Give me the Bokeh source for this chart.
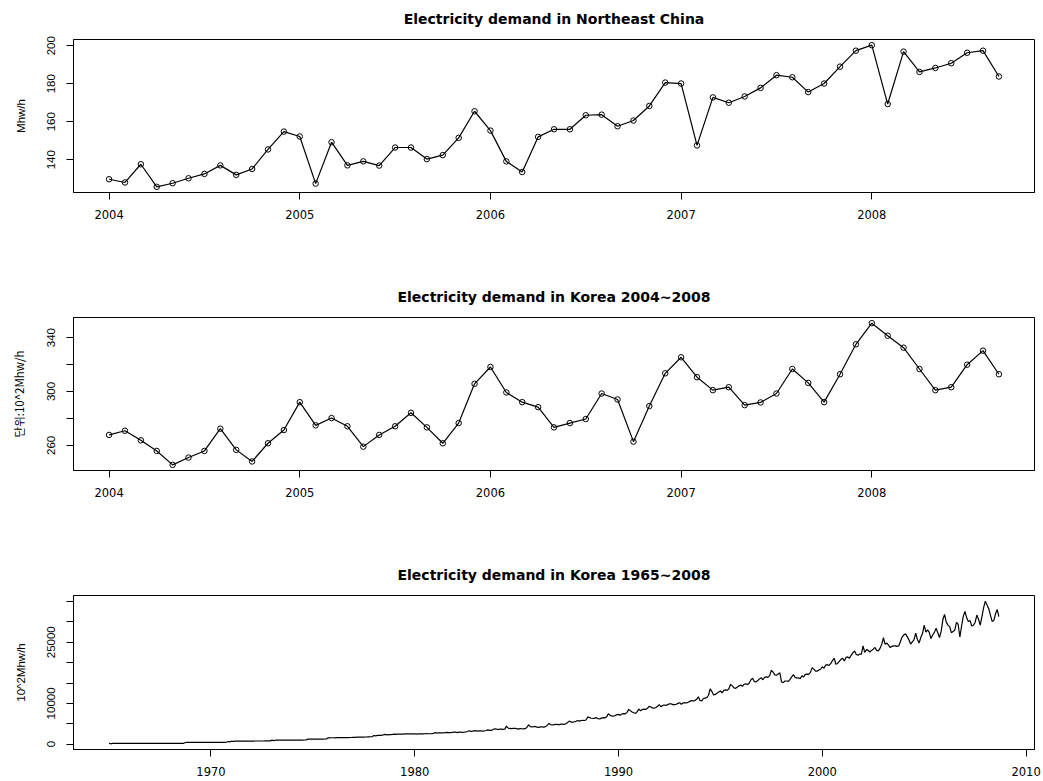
from bokeh.plotting import figure
from bokeh.layouts import column
from bokeh.models import Range1d, FixedTicker
from bokeh.embed import file_html
from bokeh.resources import INLINE

# ---------------- data ----------------
# Northeast China, monthly (Mhw/h), Jan 2004 .. Sep 2008
ne_china_2004 = [129.7, 128.0, 137.6, 125.7, 127.6, 130.2, 132.5, 137.0, 132.0, 135.1, 145.4, 154.8]
ne_china_2005 = [152.2, 127.4, 149.2, 137.0, 139.1, 136.9, 146.4, 146.4, 140.3, 142.4, 151.5, 165.5]
ne_china_2006 = [155.3, 139.1, 133.5, 152.0, 156.0, 156.0, 163.4, 163.7, 157.6, 160.6, 168.3, 180.6]
ne_china_2007 = [180.1, 147.5, 172.8, 170.0, 173.3, 177.8, 184.5, 183.4, 175.6, 180.1, 189.0, 197.4]
ne_china_2008 = [200.3, 169.3, 196.9, 186.2, 188.3, 190.8, 196.3, 197.4, 183.8]

# Korea, monthly (10^2 Mhw/h), Jan 2004 .. Sep 2008
korea_2004 = [267.8, 270.9, 263.8, 255.9, 245.6, 251.0, 255.9, 272.4, 256.7, 248.1, 261.6, 271.4]
korea_2005 = [292.1, 274.9, 280.3, 274.2, 259.1, 267.8, 274.2, 284.2, 273.4, 261.6, 276.6, 305.7]
korea_2006 = [318.2, 299.3, 292.1, 288.4, 273.4, 276.6, 279.6, 298.5, 294.1, 262.8, 289.2, 313.5]
korea_2007 = [325.4, 310.6, 301.0, 303.2, 289.9, 291.9, 298.5, 316.7, 306.4, 292.1, 312.8, 335.0]
korea_2008 = [350.7, 341.4, 332.5, 316.7, 301.0, 303.2, 319.9, 330.3, 312.8]

# Korea long series, monthly (10^2 Mhw/h), Jan 1965 .. Dec 2003
kr_1965 = [240, 90, 180, 185, 185, 185, 185, 185, 185, 185, 190, 190]
kr_1966 = [190, 185, 190, 190, 190, 195, 195, 195, 195, 195, 200, 200]
kr_1967 = [200, 195, 200, 200, 205, 205, 205, 205, 205, 210, 210, 210]
kr_1968 = [210, 205, 210, 215, 215, 215, 215, 215, 215, 410, 420, 425]
kr_1969 = [425, 420, 425, 430, 430, 430, 435, 435, 435, 440, 440, 445]
kr_1970 = [445, 440, 450, 450, 455, 455, 455, 460, 460, 470, 660, 560]
kr_1971 = [720, 700, 730, 740, 740, 745, 745, 750, 750, 755, 760, 765]
kr_1972 = [765, 760, 770, 770, 775, 775, 780, 780, 785, 790, 795, 800]
kr_1973 = [1000, 850, 970, 975, 980, 980, 985, 990, 990, 995, 1000, 1000]
kr_1974 = [1000, 990, 1000, 1005, 1010, 1010, 1015, 1020, 1020, 1230, 1235, 1240]
kr_1975 = [1240, 1230, 1245, 1250, 1250, 1255, 1260, 1265, 1270, 1560, 1565, 1570]
kr_1976 = [1575, 1560, 1580, 1585, 1590, 1595, 1600, 1610, 1615, 1620, 1640, 1660]
kr_1977 = [1700, 1680, 1720, 1720, 1730, 1740, 1750, 1760, 1770, 1790, 1820, 1850]
kr_1978 = [2130, 2050, 2150, 2160, 2180, 2200, 2380, 2350, 2300, 2330, 2360, 2400]
kr_1979 = [2450, 2380, 2460, 2460, 2470, 2480, 2500, 2520, 2500, 2510, 2530, 2540]
kr_1980 = [2540, 2480, 2540, 2540, 2530, 2540, 2560, 2600, 2560, 2560, 2600, 2650]
kr_1981 = [2870, 2700, 2800, 2780, 2760, 2780, 2820, 2880, 2830, 2820, 2880, 2950]
kr_1982 = [2950, 2850, 2950, 2930, 2900, 2920, 3000, 3100, 3280, 3150, 3200, 3280]
kr_1983 = [3300, 3180, 3280, 3250, 3220, 3250, 3350, 3500, 3380, 3380, 3550, 3770]
kr_1984 = [3700, 3600, 3700, 3680, 3650, 3700, 4430, 3950, 3850, 3800, 3850, 3900]
kr_1985 = [3800, 3690, 3800, 3780, 3750, 3800, 4100, 4760, 4300, 4260, 4300, 4350]
kr_1986 = [4180, 4100, 4250, 4250, 4200, 4300, 4600, 5080, 4800, 4700, 4800, 4840]
kr_1987 = [4840, 4750, 4900, 4900, 4850, 5000, 5300, 5660, 5410, 5400, 5500, 5600]
kr_1988 = [5820, 5650, 5800, 5850, 5800, 6000, 6720, 6500, 6350, 6300, 6400, 6500]
kr_1989 = [6230, 6200, 6400, 6500, 6450, 6700, 7460, 7100, 6900, 6900, 7000, 7200]
kr_1990 = [7300, 7100, 7400, 7500, 7450, 7800, 8530, 8200, 7900, 7700, 7540, 8000]
kr_1991 = [8610, 8200, 8500, 8600, 8500, 8800, 9270, 9100, 8900, 8800, 9000, 9300]
kr_1992 = [9680, 9200, 9500, 9600, 9500, 9700, 9920, 9900, 9700, 9700, 9800, 10000]
kr_1993 = [10170, 9800, 10100, 10200, 10100, 10300, 10500, 10700, 10600, 10700, 11000, 11640]
kr_1994 = [10740, 10600, 11200, 11300, 11400, 12000, 13610, 12900, 12050, 12200, 12500, 12800]
kr_1995 = [13040, 12600, 13200, 13300, 13200, 13600, 14680, 14300, 13800, 13700, 14020, 14300]
kr_1996 = [14500, 14200, 14700, 14800, 14600, 15000, 15800, 16150, 15330, 15300, 15600, 16000]
kr_1997 = [16320, 15800, 16400, 16500, 16400, 16800, 18120, 17700, 17000, 16900, 17200, 17500]
kr_1998 = [15250, 15100, 15500, 15500, 15400, 15900, 16500, 17060, 16400, 16200, 16300, 16070]
kr_1999 = [16800, 16500, 17100, 17200, 17100, 17600, 18780, 18400, 17900, 17900, 18200, 18370]
kr_2000 = [19000, 18600, 19400, 19500, 19300, 19800, 20500, 21070, 19600, 19800, 20300, 20800]
kr_2001 = [21070, 20400, 21300, 21400, 21100, 21800, 22400, 22880, 22000, 21800, 22100, 22060]
kr_2002 = [24110, 22500, 23200, 23000, 22600, 23000, 23300, 23700, 23000, 22900, 23500, 24500]
kr_2003 = [26160, 24500, 24800, 24300, 23700, 24000, 24100, 24110, 24000, 24100, 25200, 26300]

titles = ["Electricity demand in Northeast China",
          "Electricity demand in Korea 2004~2008",
          "Electricity demand in Korea 1965~2008"]
ylabels = ["Mhw/h", "단위:10^2Mhw/h", "10^2Mhw/h"]
ticks_short_x = [2004, 2005, 2006, 2007, 2008]
ticks_long_x = [1970, 1980, 1990, 2000, 2010]
ticks_y1 = [140, 160, 180, 200]
ticks_y2 = [260, 280, 300, 320, 340]
ticks_y3 = [0, 5000, 10000, 15000, 20000, 25000, 30000, 35000]
shown_y2 = [260, 300, 340]
shown_y3 = [0, 10000, 25000]

# ---------------- assemble ----------------
ne_china = ne_china_2004 + ne_china_2005 + ne_china_2006 + ne_china_2007 + ne_china_2008
korea = korea_2004 + korea_2005 + korea_2006 + korea_2007 + korea_2008
korea_long_early = (kr_1965 + kr_1966 + kr_1967 + kr_1968 + kr_1969 + kr_1970 + kr_1971 + kr_1972
                    + kr_1973 + kr_1974 + kr_1975 + kr_1976 + kr_1977 + kr_1978 + kr_1979 + kr_1980
                    + kr_1981 + kr_1982 + kr_1983 + kr_1984 + kr_1985 + kr_1986 + kr_1987 + kr_1988
                    + kr_1989 + kr_1990 + kr_1991 + kr_1992 + kr_1993 + kr_1994 + kr_1995 + kr_1996
                    + kr_1997 + kr_1998 + kr_1999 + kr_2000 + kr_2001 + kr_2002 + kr_2003)
korea_long = korea_long_early + [v * 100 for v in korea]

t_short = [2004 + i / 12 for i in range(len(ne_china))]
t_long = [1965 + i / 12 for i in range(len(korea_long))]

FONT_H = "DejaVu Sans"       # horizontal texts
FONT_V = "Liberation Sans"   # rotated texts


def padded(lo, hi):
    r = hi - lo
    return Range1d(lo - 0.04 * r, hi + 0.04 * r)


def panel(title, ylabel, t, y, xticks, yticks, shown, points, height, top, bottom, label_font):
    p = figure(width=1043, height=height, output_backend="svg", toolbar_location=None,
               x_range=padded(min(t), max(t)), y_range=padded(min(y), max(y)),
               min_border_left=73, min_border_right=9, min_border_top=top, min_border_bottom=bottom)
    p.title.text = title
    p.title.align = "center"
    p.title.vertical_align = "top"
    p.title.text_font = FONT_H
    p.title.text_font_size = "14px"
    p.title.text_font_style = "bold"
    p.title.text_color = "black"
    p.title.standoff = 21
    p.outline_line_color = "black"
    p.outline_line_width = 1
    p.outline_line_alpha = 1
    p.xgrid.grid_line_color = None
    p.ygrid.grid_line_color = None
    p.background_fill_color = "white"
    p.border_fill_color = "white"

    p.line(t, y, line_color="black", line_width=1.2)
    if points:
        p.scatter(t, y, marker="circle", size=5.5, fill_color=None, line_color="black", line_width=1)

    xa = p.below[0]
    ya = p.left[0]
    for ax in (xa, ya):
        ax.axis_line_color = "black"
        ax.major_tick_line_color = "black"
        ax.major_tick_out = 7
        ax.major_tick_in = 0
        ax.minor_tick_line_color = None
        ax.major_label_text_color = "black"

    xa.ticker = FixedTicker(ticks=xticks)
    xa.major_label_text_font = FONT_H
    xa.major_label_text_font_size = "11.5px"
    xa.major_label_standoff = 10

    ya.ticker = FixedTicker(ticks=yticks)
    ya.major_label_text_font = FONT_V
    ya.major_label_text_font_size = "11.5px"
    ya.major_label_orientation = "vertical"
    ya.major_label_standoff = 11
    ya.major_label_overrides = {v: "" for v in yticks if v not in shown}
    ya.axis_label = ylabel
    ya.axis_label_text_font = label_font
    ya.axis_label_text_font_size = "11.5px"
    ya.axis_label_text_font_style = "normal"
    ya.axis_label_text_color = "black"
    ya.axis_label_standoff = 18
    return p


p1 = panel(titles[0], ylabels[0], t_short, ne_china, ticks_short_x, ticks_y1, ticks_y1, True,
           278, 38, 86, FONT_V)
p2 = panel(titles[1], ylabels[1], t_short, korea, ticks_short_x, ticks_y2, shown_y2, True,
           278, 38, 86, "Noto Sans CJK KR")
p3 = panel(titles[2], ylabels[2], t_long, korea_long, ticks_long_x, ticks_y3, shown_y3, False,
           225, 38, 32, FONT_V)

layout = column(p1, p2, p3, spacing=0)
open("out.html", "w").write(file_html(layout, INLINE))
